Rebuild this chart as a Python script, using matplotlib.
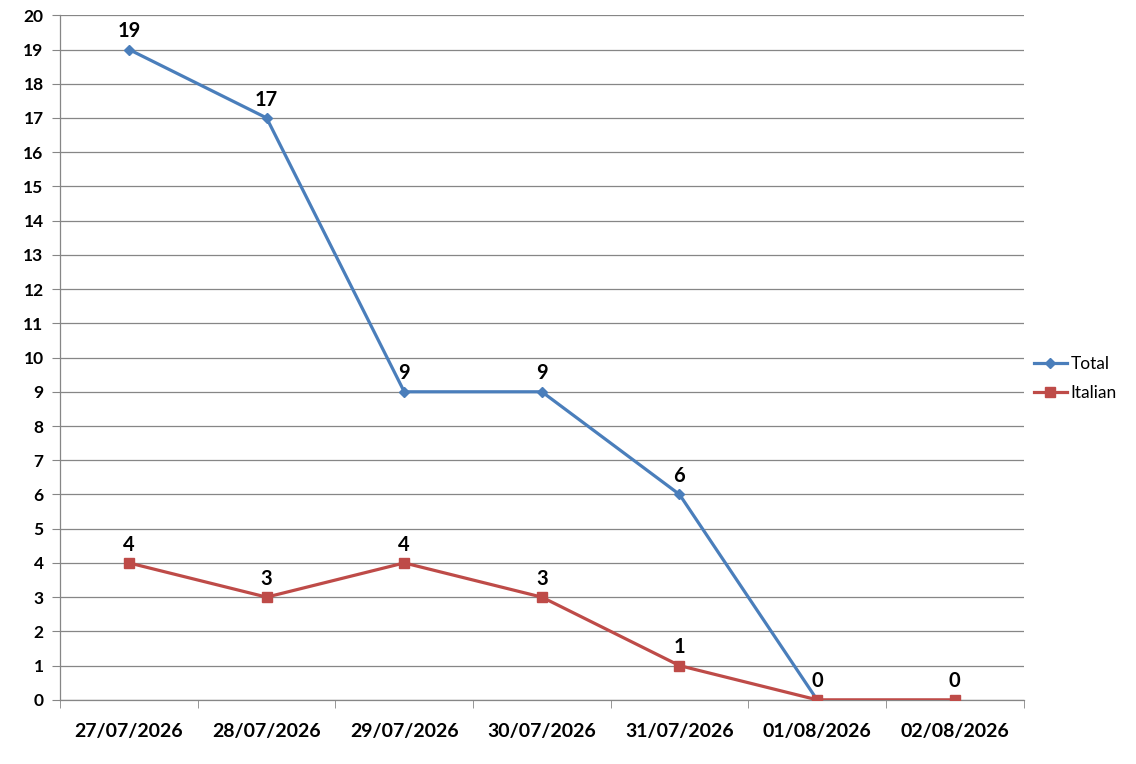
import matplotlib
matplotlib.use("Agg")
import matplotlib.pyplot as plt

dates = ["27/07/2026", "28/07/2026", "29/07/2026", "30/07/2026", "31/07/2026", "01/08/2026", "02/08/2026"]
total = [19, 17, 9, 9, 6, 0]
italian = [4, 3, 4, 3, 1, 0, 0]
yticks = list(range(0, 21))

plt.rcParams['font.family'] = ['Lato', 'DejaVu Sans']

fig = plt.figure(figsize=(11.36, 7.64), dpi=100)
ax = fig.add_axes([0.053, 0.084, 0.848, 0.896])

xs_total = [i + 0.5 for i in range(len(total))]
xs_ital = [i + 0.5 for i in range(len(italian))]
blue = "#4A7EBB"
red = "#BE4B48"
ax.plot(xs_total, total, color=blue, lw=2.3, marker="D", ms=5.5, label="Total", zorder=3)
ax.plot(xs_ital, italian, color=red, lw=2.3, marker="s", ms=7, label="Italian", zorder=3)

for x, v in zip(xs_total, total):
    if x == xs_ital[5]:
        continue
    ax.annotate(str(v), (x, v), xytext=(0, 6), textcoords="offset points",
                ha="center", va="bottom", fontsize=14.5, fontweight="bold")
for x, v in zip(xs_ital, italian):
    ax.annotate(str(v), (x, v), xytext=(0, 6), textcoords="offset points",
                ha="center", va="bottom", fontsize=14.5, fontweight="bold")

ax.set_xlim(0, len(dates))
ax.set_ylim(0, 20)
ax.set_yticks(yticks)
ax.set_yticklabels([str(t) for t in yticks], fontsize=12.5, fontweight="bold")
ax.set_xticks([i + 0.5 for i in range(len(dates))])
ax.set_xticklabels(dates, fontsize=14, fontweight="bold")
ax.set_xticks(list(range(len(dates) + 1)), minor=True)
ax.tick_params(axis="x", which="major", length=0, pad=17)
ax.tick_params(axis="x", which="minor", length=6, color="#868686", direction="out")
ax.tick_params(axis="y", length=6, color="#868686", direction="out", pad=6)
ax.yaxis.grid(True, color="#868686", lw=0.9)
ax.set_axisbelow(True)
for s in ["top", "right"]:
    ax.spines[s].set_visible(False)
for s in ["left", "bottom"]:
    ax.spines[s].set_color("#868686")
    ax.spines[s].set_linewidth(0.9)

ax.legend(loc="center left", bbox_to_anchor=(1.0, 0.47), frameon=False, fontsize=12.5,
          handlelength=1.9, labelspacing=0.75, handletextpad=0.2, borderaxespad=0.2)

fig.savefig("out.png", dpi=100)
